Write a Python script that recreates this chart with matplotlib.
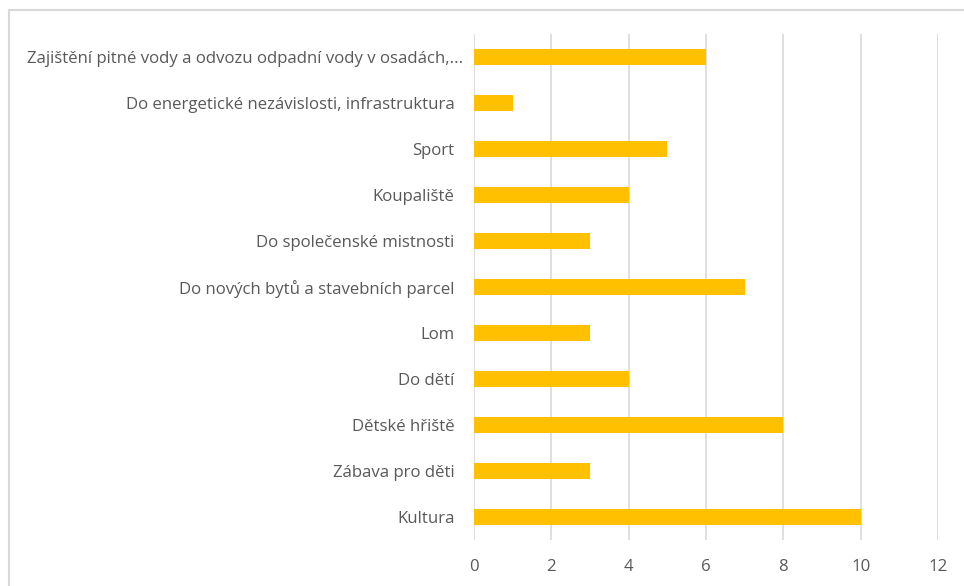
import matplotlib.pyplot as plt
from matplotlib.patches import Rectangle
from matplotlib.transforms import ScaledTranslation

categories = [
    "Kultura",
    "Zábava pro děti",
    "Dětské hřiště",
    "Do dětí",
    "Lom",
    "Do nových bytů a stavebních parcel",
    "Do společenské mistnosti",
    "Koupaliště",
    "Sport",
    "Do energetické nezávislosti, infrastruktura",
    "Zajištění pitné vody a odvozu odpadní vody v osadách,...",
]
values = [10, 3, 8, 4, 3, 7, 3, 4, 5, 1, 6]
x_ticks = [0, 2, 4, 6, 8, 10, 12]

plt.rcParams['font.family'] = ['Open Sans', 'DejaVu Sans']

fig = plt.figure(figsize=(9.64, 5.86), dpi=100)
ax = fig.add_axes([474 / 964, 1 - 540 / 586, 464 / 964, 506 / 586])

# chart frame, right and bottom edges fall outside the picture
fig.patches.append(Rectangle((9 / 964, -0.1), 1.0, 1 - 10 / 586 + 0.1,
                             transform=fig.transFigure, fill=False,
                             edgecolor='#d9d9d9', linewidth=1.5))

y = range(len(categories))
ax.barh(y, values, height=0.35, color='#ffc000', zorder=3)

ax.set_xlim(0, 12)
ax.set_ylim(-0.5, len(categories) - 0.5)
ax.set_xticks(x_ticks)
ax.set_yticks(list(y))
ax.set_yticklabels(categories)
ax.grid(axis='x', color='#d9d9d9', linewidth=1.2, zorder=0)
for s in ax.spines.values():
    s.set_visible(False)
ax.tick_params(length=0, labelsize=12.1, colors='#595959', pad=14)
ax.tick_params(axis='x', pad=14)

# the truncated label sits a bit closer to the bars, like in Excel
lbl = ax.get_yticklabels()[-1]
lbl.set_transform(lbl.get_transform() + ScaledTranslation(0.09, 0, fig.dpi_scale_trans))

fig.savefig('out.png', dpi=100)
